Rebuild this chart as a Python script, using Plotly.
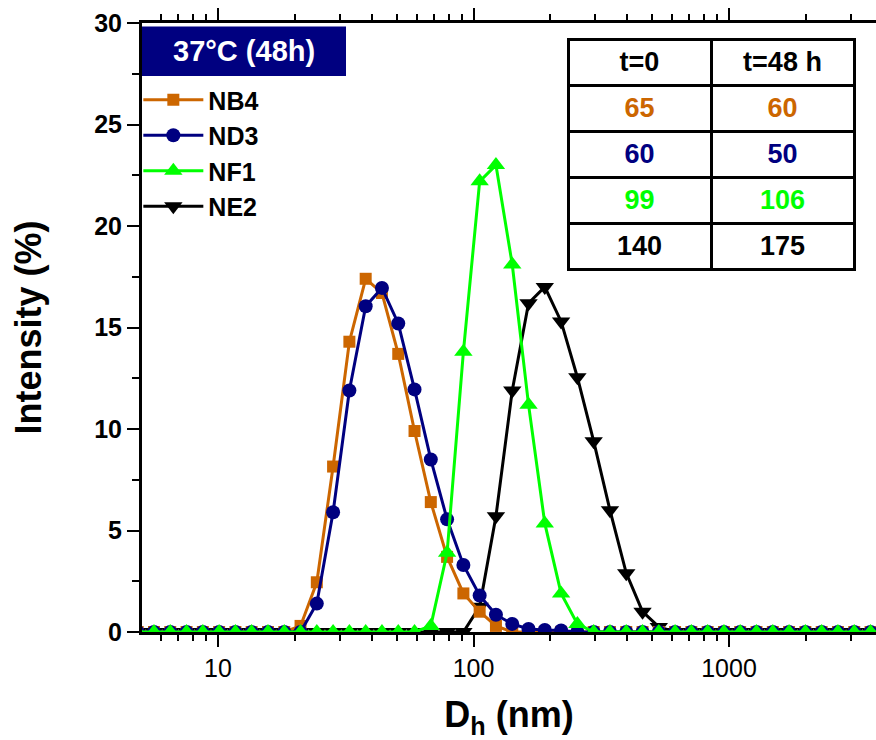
import plotly.graph_objects as go

# Malvern size bins (nm) visible in the chart
diam = [4.849, 5.615, 6.503, 7.531, 8.721, 10.10, 11.70, 13.54, 15.69, 18.17,
        21.04, 24.36, 28.21, 32.67, 37.84, 43.82, 50.75, 58.77, 68.06, 78.82,
        91.28, 105.7, 122.4, 141.8, 164.2, 190.1, 220.2, 255.0, 295.3, 342.0,
        396.1, 458.7, 531.2, 615.1, 712.4, 825.0, 955.4, 1106, 1281, 1484,
        1718, 1990, 2305, 2669, 3091, 3580, 4145]

nb4 = [0]*10 + [0.3, 2.45, 8.15, 14.3, 17.4, 16.7, 13.7, 9.9, 6.4, 3.7, 1.9, 1.0, 0.3] + [0]*24
nd3 = [0]*11 + [1.4, 5.9, 11.9, 16.05, 16.95, 15.2, 11.95, 8.5, 5.55, 3.3, 1.8, 0.85,
                0.4, 0.15, 0.1, 0.08] + [0]*20
nf1 = [0]*18 + [0.3, 3.9, 13.8, 22.2, 23.0, 18.1, 11.2, 5.35, 1.9, 0.4] + [0]*19
ne2 = [0]*21 + [1.25, 5.7, 11.9, 16.2, 17.0, 15.3, 12.55, 9.4, 6.0, 2.9, 1.0, 0.25] + [0]*14

series_names = ["NB4", "ND3", "NF1", "NE2"]
series_colors = ["#CC6600", "#000080", "#00FF00", "#000000"]
series_symbols = ["square", "circle", "triangle-up", "triangle-down"]
series_sizes = [12, 14, 16, 16]
series_data = [nb4, nd3, nf1, ne2]

table_header = ["t=0", "t=48 h"]
table_t0 = [65, 60, 99, 140]
table_t48 = [60, 50, 106, 175]

header_text = "37°C (48h)"

FONT = "Liberation Sans, Arial, sans-serif"

fig = go.Figure()

draw_order = [3, 0, 1, 2]
for k in draw_order:
    fig.add_trace(go.Scatter(
        x=diam, y=series_data[k], name=series_names[k], mode="lines+markers",
        line=dict(color=series_colors[k], width=3),
        marker=dict(symbol=series_symbols[k], size=series_sizes[k], color=series_colors[k],
                    line=dict(width=0)),
        legendrank=k + 1,
    ))

fig.add_trace(go.Table(
    domain=dict(x=[(568 - 142) / 734, (855 - 142) / 734], y=[0.55, 1 - (39 - 23) / 609]),
    columnwidth=[1, 1],
    header=dict(values=["<b>%s</b>" % h for h in table_header], height=46,
                line=dict(color="black", width=3), fill=dict(color="white"),
                font=dict(family=FONT, size=27, color="black"), align="center"),
    cells=dict(values=[["<b>%s</b>" % v for v in table_t0], ["<b>%s</b>" % v for v in table_t48]],
               height=45, line=dict(color="black", width=3), fill=dict(color="white"),
               font=dict(family=FONT, size=27,
                         color=[series_colors, series_colors]),
               align="center"),
))

fig.add_shape(type="rect", xref="paper", yref="paper",
              x0=0, x1=(346 - 142) / 734, y0=1 - (76 - 23) / 609, y1=1 - (26.5 - 23) / 609,
              fillcolor="#000080", line=dict(width=0))
fig.add_annotation(xref="paper", yref="paper", x=(346 - 142) / 734 / 2,
                   y=1 - (51 - 23) / 609, text="<b>%s</b>" % header_text, showarrow=False,
                   font=dict(family=FONT, size=29, color="white"), xanchor="center", yanchor="middle")

minor_x = [6, 7, 8, 9, 20, 30, 40, 50, 60, 70, 80, 90, 200, 300, 400, 500, 600, 700, 800, 900,
           2000, 3000]

fig.update_layout(
    width=876, height=740,
    margin=dict(l=142, r=0, t=23, b=108),
    paper_bgcolor="white", plot_bgcolor="white",
    font=dict(family=FONT, color="black"),
    showlegend=True,
    legend=dict(x=-0.005, y=1 - (77 - 23) / 609, xanchor="left", yanchor="top",
                bgcolor="rgba(0,0,0,0)", borderwidth=0,
                font=dict(family=FONT, size=25, color="black", weight="bold"),
                itemwidth=60, tracegroupgap=0),
    xaxis=dict(type="log", range=[0.7025, 3.5753],
               tickmode="array", tickvals=[10, 100, 1000], ticktext=["10", "100", "1000"],
               ticks="outside", ticklen=12, tickwidth=2, tickcolor="black",
               showline=True, linewidth=3, linecolor="black", mirror="ticks",
               showgrid=False, zeroline=False,
               tickfont=dict(family=FONT, size=25, color="black"),
               minor=dict(tickmode="array", tickvals=minor_x, ticks="outside", ticklen=6,
                          tickwidth=2, tickcolor="black", showgrid=False),
               title=dict(text="<b>D<sub>h</sub> (nm)</b>", standoff=22,
                          font=dict(family=FONT, size=36, color="black"))),
    yaxis=dict(range=[0, 30], tickmode="linear", tick0=0, dtick=5,
               ticks="outside", ticklen=12, tickwidth=2, tickcolor="black",
               showline=True, linewidth=3, linecolor="black", mirror=False,
               showgrid=False, zeroline=False,
               tickfont=dict(family=FONT, size=25, color="black", weight="bold"),
               minor=dict(dtick=2.5, ticks="outside", ticklen=7, tickwidth=2,
                          tickcolor="black", showgrid=False),
               title=dict(text="<b>Intensity (%)</b>", standoff=42,
                          font=dict(family=FONT, size=36, color="black"))),
)

fig.write_html("out.html")
